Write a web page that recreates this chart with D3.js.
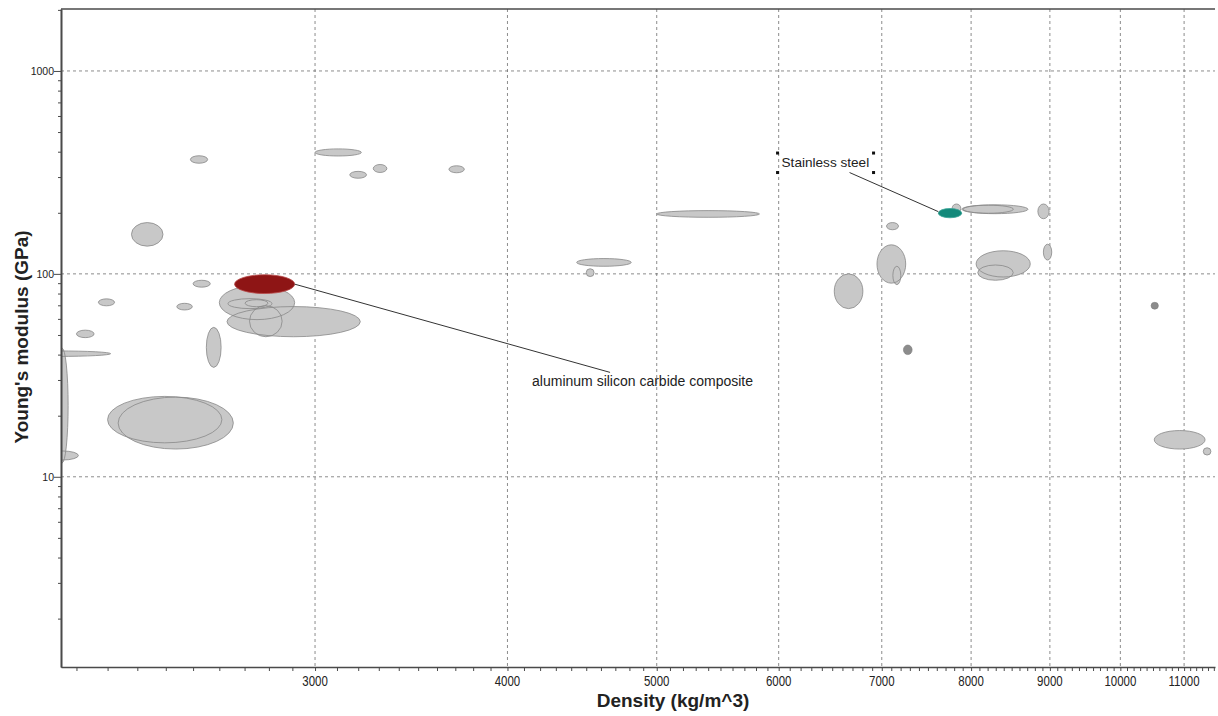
<!DOCTYPE html>
<html>
<head>
<meta charset="utf-8">
<script src="https://cdn.jsdelivr.net/npm/d3@7/dist/d3.min.js"></script>
<style>
  body { margin: 0; background: #fff; }
  svg text { font-family: Arial, "Liberation Sans", sans-serif; fill: #222; }
  .grid line { stroke: #6e6e6e; stroke-width: 0.8; stroke-dasharray: 3,3; }
  .axis path, .axis line { stroke: #4a4a4a; }
  .axis path { stroke-width: 1.6; }
</style>
</head>
<body>
<div id="chart"></div>
<script>
// material property ranges (density kg/m^3, Young's modulus GPa)
var densityLo = [2490, 3000, 3160, 3273, 3665, 2280, 2500, 2170, 2440, 2100,
                 2550, 1890, 2037, 2010, 2235, 2200, 2630, 2600, 2720, 2634,
                 2702, 4436, 4500, 5000, 6520, 6950, 7117, 7050, 7776, 7890,
                 7906, 8840, 8913, 8060, 8080, 10520, 11320, 7230, 10470,
                 2660, 7617];
var densityHi = [2555, 3215, 3240, 3340, 3750, 2390, 2565, 2223, 2497, 2156,
                 2607, 2210, 2074, 2106, 2655, 2610, 3210, 2910, 2856, 2813,
                 2796, 4813, 4553, 5830, 6805, 7255, 7202, 7177, 7878, 8710,
                 8522, 8990, 9025, 8740, 8520, 11350, 11450, 7325, 10585,
                 2910, 7889];
var modulusLo = [351, 381, 296, 316, 315, 137, 86, 69.6, 66.4, 48.5,
                 34.6, 39.2, 11.7, 12.1, 13.7, 14.7, 49, 59.5, 49, 67.4,
                 68.9, 109, 97, 190, 67.4, 90, 88.5, 165, 200, 198,
                 199, 187, 117, 96.5, 93, 13.7, 12.8, 40, 67,
                 80, 189];
var modulusHi = [382, 413, 320, 346, 341, 179, 93, 75.3, 71.6, 52.8,
                 54.5, 41.7, 43, 13.4, 24.7, 24.9, 69, 87.5, 69.7, 75.5,
                 74.6, 119, 106, 205, 100, 139, 109, 179, 221, 219,
                 218, 221, 140, 130, 110.6, 16.9, 13.9, 44.6, 72.4,
                 99, 210];
// single-value records drawn as dots
var pointRecords = [37, 38];
// labelled materials: record index and where the label sits (data units)
var highlightIdx = [39, 40];
var highlightLabel = ["aluminum silicon carbide composite", "Stainless steel"];
var labelDensity = [4663, 5990];
var labelModulus = [32.7, 394];

var xMajor = [3000, 4000, 5000, 6000, 7000, 8000, 9000, 10000, 11000];
var xMinor = d3.range(2100, 11501, 100);
var yMajor = [10, 100, 1000];
var yMinor = [2, 3, 4, 5, 6, 7, 8, 9, 20, 30, 40, 50, 60, 70, 80, 90,
              200, 300, 400, 500, 600, 700, 800, 900, 2000];

var width = 1218, height = 716;
var margin = {top: 9, right: 3, bottom: 49, left: 61};
var x0 = margin.left, x1 = width - margin.right,
    y0 = margin.top, y1 = height - margin.bottom;

var x = d3.scaleLog().domain([2052, 11520]).range([x0, x1]);
var y = d3.scaleLog().domain([1.155, 2020]).range([y1, y0]);

var svg = d3.select("#chart").append("svg")
    .attr("width", width)
    .attr("height", height);

// grid
var grid = svg.append("g").attr("class", "grid");
grid.selectAll(".gx").data(xMajor).enter().append("line")
    .attr("x1", function(d) { return x(d); })
    .attr("x2", function(d) { return x(d); })
    .attr("y1", y0).attr("y2", y1);
grid.selectAll(".gy").data(yMajor).enter().append("line")
    .attr("x1", x0).attr("x2", x1)
    .attr("y1", function(d) { return y(d); })
    .attr("y2", function(d) { return y(d); });

var rows = d3.range(densityLo.length).map(function(i) {
  return {i: i, dLo: densityLo[i], dHi: densityHi[i], eLo: modulusLo[i], eHi: modulusHi[i]};
});
function cx(d) { return (x(d.dLo) + x(d.dHi)) / 2; }
function cy(d) { return (y(d.eLo) + y(d.eHi)) / 2; }
function rx(d) { return (x(d.dHi) - x(d.dLo)) / 2; }
function ry(d) { return (y(d.eLo) - y(d.eHi)) / 2; }

svg.append("clipPath").attr("id", "plot")
  .append("rect").attr("x", x0).attr("y", y0)
  .attr("width", x1 - x0).attr("height", y1 - y0);

var plot = svg.append("g").attr("clip-path", "url(#plot)");

var bubbles = rows.filter(function(d) {
  return pointRecords.indexOf(d.i) < 0 && highlightIdx.indexOf(d.i) < 0;
});
var dots = rows.filter(function(d) { return pointRecords.indexOf(d.i) >= 0; });
var marked = highlightIdx.map(function(i) { return rows[i]; });

// fills first, outlines on top so overlapping bubbles stay readable
plot.append("g").selectAll("ellipse").data(bubbles).enter().append("ellipse")
    .attr("cx", cx).attr("cy", cy).attr("rx", rx).attr("ry", ry)
    .attr("fill", "#c8c8c8");
plot.append("g").selectAll("ellipse").data(bubbles).enter().append("ellipse")
    .attr("cx", cx).attr("cy", cy).attr("rx", rx).attr("ry", ry)
    .attr("fill", "none").attr("stroke", "#888").attr("stroke-width", 0.8);

plot.append("g").selectAll("ellipse").data(dots).enter().append("ellipse")
    .attr("cx", cx).attr("cy", cy).attr("rx", rx).attr("ry", ry)
    .attr("fill", "#8c8c8c").attr("stroke", "#7c7c7c").attr("stroke-width", 0.6);

var hiFill = ["#8e1515", "#13897a"], hiStroke = ["#b94a4a", "#3aa597"];
plot.append("g").selectAll("ellipse").data(marked).enter().append("ellipse")
    .attr("cx", cx).attr("cy", cy).attr("rx", rx).attr("ry", ry)
    .attr("fill", function(d, k) { return hiFill[k]; })
    .attr("stroke", function(d, k) { return hiStroke[k]; })
    .attr("stroke-width", 0.8);

// axes
svg.append("g").attr("class", "axis")
    .attr("transform", "translate(0," + y1 + ")")
    .call(d3.axisBottom(x).tickValues(xMinor).tickFormat("").tickSize(4).tickSizeOuter(0));
svg.append("g").attr("class", "axis")
    .attr("transform", "translate(" + x0 + ",0)")
    .call(d3.axisLeft(y).tickValues(yMinor).tickFormat("").tickSize(3).tickSizeOuter(0));
svg.append("g").attr("class", "axis")
    .attr("transform", "translate(" + x0 + ",0)")
    .call(d3.axisLeft(y).tickValues(yMajor).tickFormat(d3.format("d")).tickSize(7).tickSizeOuter(0))
    .call(function(g) {
      g.selectAll("text").attr("font-size", 10.5)
        .attr("font-family", "Arial, 'Liberation Sans', sans-serif").attr("x", -7).attr("fill", "#222");
    });
svg.append("line")
    .attr("x1", x0).attr("x2", x1).attr("y1", y0).attr("y2", y0)
    .attr("stroke", "#4a4a4a").attr("stroke-width", 1.6);

svg.append("g").selectAll("text").data(xMajor).enter().append("text")
    .attr("transform", function(d) { return "translate(" + x(d) + "," + (y1 + 19) + ") scale(0.82,1)"; })
    .attr("text-anchor", "middle")
    .attr("font-size", 14)
    .text(function(d) { return d; });

// axis titles
svg.append("text")
    .attr("x", 673).attr("y", 707)
    .attr("text-anchor", "middle")
    .attr("font-size", 19).attr("font-weight", "bold")
    .text("Density (kg/m^3)");
svg.append("text")
    .attr("transform", "translate(28,337) rotate(-90)")
    .attr("text-anchor", "middle")
    .attr("font-size", 19).attr("font-weight", "bold")
    .text("Young's modulus (GPa)");

// annotations
var ann = svg.append("g");
// aluminum silicon carbide composite
var al = marked[0];
var alX = x(labelDensity[0]), alY = y(labelModulus[0]);
ann.append("line")
    .attr("x1", x(al.dHi)).attr("y1", cy(al))
    .attr("x2", alX).attr("y2", alY)
    .attr("stroke", "#333").attr("stroke-width", 1);
ann.append("text")
    .attr("x", alX - 78).attr("y", alY + 13.5)
    .attr("font-size", 14)
    .text(highlightLabel[0]);

// stainless steel with its selection box
var ss = marked[1];
var bx = x(labelDensity[1]), by = y(labelModulus[1]), bw = 96, bh = 19.5;
ann.append("line")
    .attr("x1", bx + 72).attr("y1", by + bh)
    .attr("x2", x(ss.dLo)).attr("y2", cy(ss) - 1.5)
    .attr("stroke", "#333").attr("stroke-width", 1);
ann.append("text")
    .attr("x", bx + 4).attr("y", by + 14)
    .attr("font-size", 13.6)
    .text(highlightLabel[1]);
ann.selectAll("rect").data([[0, 0], [bw, 0], [0, bh], [bw, bh]]).enter().append("rect")
    .attr("x", function(d) { return bx + d[0] - 1.5; })
    .attr("y", function(d) { return by + d[1] - 1.5; })
    .attr("width", 3).attr("height", 3)
    .attr("fill", "#111");
</script>
</body>
</html>
